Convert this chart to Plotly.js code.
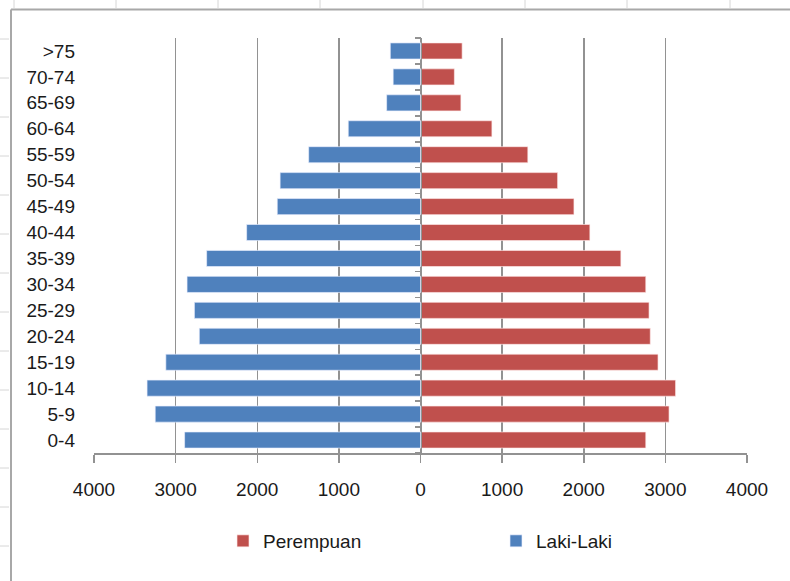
<!DOCTYPE html>
<html>
<head>
<meta charset="utf-8">
<script src="https://cdn.plot.ly/plotly-3.0.1.min.js"></script>
<style>html,body{margin:0;padding:0;background:#fff;}#chart{width:790px;height:581px;}</style>
</head>
<body>
<div id="chart"></div>
<script>
// ---- data ----
const ageGroups = ['0-4','5-9','10-14','15-19','20-24','25-29','30-34','35-39','40-44','45-49','50-54','55-59','60-64','65-69','70-74','>75'];
const lakiLaki  = [2890,3250,3350,3120,2710,2770,2860,2620,2130,1755,1720,1370,885,415,335,370];
const perempuan = [2760,3045,3125,2910,2815,2800,2760,2455,2075,1880,1680,1315,875,495,415,510];
const xTickVals = [-4000,-3000,-2000,-1000,0,1000,2000,3000,4000];
const xTickText = ['4000','3000','2000','1000','0','1000','2000','3000','4000'];

// ---- geometry helpers (decoration only) ----
const W = 790, H = 581, L = 94, R = 43, T = 38, B = 128;
const pw = W - L - R, ph = H - T - B;
const px = v => (v - L) / pw;
const py = v => (H - B - v) / ph;

const grid = '#929292';
const font = 'Liberation Sans, Arial, sans-serif';

const traces = [
  {
    type: 'bar', orientation: 'h', name: 'Perempuan', legend: 'legend',
    y: ageGroups, x: perempuan,
    marker: {color: '#C0504D', line: {color: 'rgba(255,235,235,0.8)', width: 0.8}},
    hoverinfo: 'x+y'
  },
  {
    type: 'bar', orientation: 'h', name: 'Laki-Laki', legend: 'legend2',
    y: ageGroups, x: lakiLaki.map(v => -v),
    marker: {color: '#4F81BD', line: {color: 'rgba(235,240,255,0.8)', width: 0.8}},
    hoverinfo: 'y'
  },
  {
    type: 'scatter', mode: 'none', y: ageGroups, x: ageGroups.map(() => 0),
    yaxis: 'y2', showlegend: false, hoverinfo: 'skip'
  }
];

const shapes = [];
// spreadsheet chart-object border
shapes.push({type:'line', xref:'paper', yref:'paper', x0:px(11), x1:px(790), y0:py(9.5), y1:py(9.5), line:{color:'#a8a8a8', width:2}});
shapes.push({type:'line', xref:'paper', yref:'paper', x0:px(11), x1:px(11), y0:py(9.5), y1:py(581), line:{color:'#a8a8a8', width:2}});
// spreadsheet cell gridline stubs
[14,116,218,320,423,525,627,730].forEach(c => shapes.push({type:'line', xref:'paper', yref:'paper', x0:px(c), x1:px(c), y0:py(0), y1:py(8), line:{color:'#d6d6d6', width:1}}));
for (let r = 39; r < 581; r += 39) shapes.push({type:'line', xref:'paper', yref:'paper', x0:px(0), x1:px(9), y0:py(r), y1:py(r), line:{color:'#d6d6d6', width:1}});

const legendBase = {
  orientation: 'h', xanchor: 'left', yanchor: 'middle',
  font: {family: font, size: 19, color: '#1a1a1a'},
  bgcolor: 'rgba(0,0,0,0)', itemclick: false, itemdoubleclick: false
};

const layout = {
  width: W, height: H,
  margin: {l: L, r: R, t: T, b: B, pad: 0},
  paper_bgcolor: '#fff', plot_bgcolor: '#fff',
  font: {family: font, size: 19, color: '#1a1a1a'},
  barmode: 'relative',
  bargap: 0.38,
  showlegend: true,
  xaxis: {
    range: [-4000, 4000], tickmode: 'array', tickvals: xTickVals, ticktext: xTickText,
    showgrid: true, gridcolor: grid, gridwidth: 1.5,
    zeroline: false,
    showline: true, linecolor: grid, linewidth: 1.5,
    ticks: 'outside', ticklen: 8, tickcolor: grid, tickwidth: 1.5,
    ticklabelstandoff: 11, automargin: false,
    tickfont: {family: font, size: 19, color: '#1a1a1a'},
    fixedrange: true
  },
  yaxis: {
    type: 'category', categoryorder: 'array', categoryarray: ageGroups,
    range: [-0.5, 15.5],
    showgrid: false, zeroline: false, showline: false, ticks: '',
    ticklabelstandoff: 18, automargin: false,
    tickfont: {family: font, size: 19, color: '#1a1a1a'},
    fixedrange: true
  },
  yaxis2: {
    type: 'category', categoryorder: 'array', categoryarray: ageGroups,
    range: [-0.5, 15.5],
    overlaying: 'y', anchor: 'free', position: 0.5, side: 'left',
    showgrid: false, zeroline: false,
    showline: true, linecolor: grid, linewidth: 1.5,
    ticks: 'outside', ticklen: 6, tickcolor: grid, tickwidth: 1.5,
    tickson: 'boundaries', showticklabels: false,
    fixedrange: true
  },
  legend: Object.assign({}, legendBase, {x: px(223), y: py(541)}),
  legend2: Object.assign({}, legendBase, {x: px(496), y: py(541)}),
  shapes: shapes
};

Plotly.newPlot('chart', traces, layout, {displayModeBar: false, staticPlot: true});
</script>
</body>
</html>
